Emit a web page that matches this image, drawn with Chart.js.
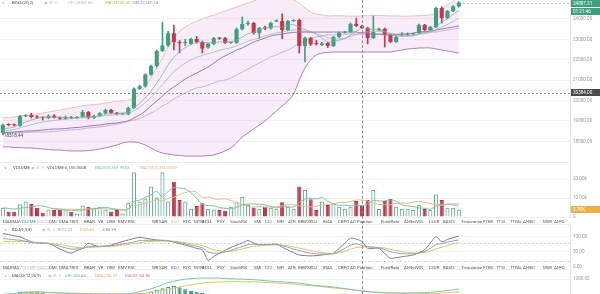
<!DOCTYPE html>
<html>
<head>
<meta charset="utf-8">
<script src="https://cdn.jsdelivr.net/npm/chart.js@4.4.1/dist/chart.umd.min.js"></script>
<style>
html,body{margin:0;padding:0;background:#fff;}
body{width:600px;height:294px;overflow:hidden;position:relative;font-family:Roboto,"Noto Sans",sans-serif;}
canvas{position:absolute;left:0;}
.t{position:absolute;white-space:nowrap;font-size:8.6px;line-height:12px;height:12px;color:#555;transform:scale(0.5);transform-origin:0 50%;}
.sep{position:absolute;left:0;width:570px;height:1px;background:#ececec;}
</style>
</head>
<body>
<canvas id="cMain" width="600" height="162" style="top:0"></canvas>
<canvas id="cVol" width="600" height="55" style="top:163px"></canvas>
<canvas id="cKdj" width="600" height="44" style="top:225px"></canvas>
<canvas id="cMacd" width="600" height="24" style="top:270px"></canvas>
<div id="overlay"></div>
<script>
// ---------------- data ----------------
const SLOTS = 100;               // time slots on the x axis (last ones empty)
const opens = [18420,18820,18820,18770,19230,19300,19200,19170,19150,19260,
 19170,19110,19190,19150,19200,19440,19150,19250,19380,19540,
 19400,19330,19330,19640,20580,20700,21280,21700,22430,22700,
 23300,22870,22820,22780,23020,22870,22600,22780,23060,23060,
 22830,22830,23500,23760,23800,23320,23560,23540,23880,23900,
 23460,23900,23950,22680,23070,22800,22730,22820,22680,23120,
 23330,23360,23760,23660,23560,23070,23460,23520,23220,22880,
 23200,23200,23250,23310,23710,23460,23600,24540,24050,24390,
 24620];
const highs = [18850,18870,18850,19280,19330,19380,19260,19210,19300,19310,
 19200,19250,19220,19230,19520,19470,19290,19420,19580,19570,
 19420,19380,19680,20620,20760,21320,21740,22480,23850,23400,
 23700,22950,23000,23060,23150,22920,22820,23100,23090,23100,
 22880,23560,24100,23900,23840,23600,23650,23850,23960,24250,
 23940,23960,24000,23110,23100,22950,22850,22860,23150,23360,
 23400,23800,24050,23700,23600,24150,23560,23560,23250,23150,
 23330,23320,23300,23750,23740,23640,24580,24600,24420,24660,
 24850];
const lows = [18318.44,18760,18750,18740,19200,19150,19120,19050,19110,19140,
 19080,19080,19120,19120,19170,19100,19120,19230,19350,19370,
 19300,19300,19300,19600,20540,20660,21230,21650,22400,22650,
 22480,22340,22700,22740,22820,22330,22560,22740,23000,22800,
 22800,22800,23460,23680,23260,23050,23480,23500,23860,23030,
 23430,23880,22330,21890,22700,22720,22700,22600,22640,23100,
 23300,23330,23620,23520,22780,23040,23430,22630,22840,22850,
 23170,23170,23220,23280,23430,23430,23570,23800,24000,24360,
 24580];
const closes = [18800,18800,18790,19230,19280,19200,19170,19150,19250,19170,
 19110,19200,19150,19200,19440,19150,19250,19380,19540,19400,
 19340,19340,19640,20580,20700,21280,21700,22430,22700,23300,
 22870,22820,22840,23020,22870,22550,22780,23060,23040,22830,
 22840,23500,23750,23800,23310,23560,23540,23800,23900,23460,
 23900,23920,22680,23070,22760,22770,22800,22680,23120,23320,
 23360,23760,23660,23560,23070,23360,23520,23220,22880,23120,
 23220,23220,23270,23710,23460,23600,24540,24050,24390,24620,
 24807.21];
const bollUp = [19150,19170,19200,19250,19270,19290,19340,19390,19440,19490,
 19540,19590,19640,19690,19740,19780,19810,19830,19880,19930,
 19960,19980,20030,20130,20320,20720,21110,21600,22090,22630,
 23070,23410,23610,23760,23900,24000,24100,24200,24290,24390,
 24490,24590,24690,24780,24880,24980,25030,25080,25080,25080,
 25030,24930,24780,24540,24340,24250,24200,24150,24160,24160,
 24150,24140,24140,24150,24160,24170,24170,24160,24150,24150,
 24140,24140,24150,24160,24180,24200,24250,24490,24690,24880,
 25130];
const bollMid = [18440,18440,18440,18440,18440,18460,18460,18460,18460,18485,
 18510,18530,18560,18580,18610,18660,18680,18710,18750,18800,
 18850,18900,19000,19050,19120,19250,19390,19540,19740,19880,
 20080,20230,20370,20520,20620,20670,20760,20860,20960,21010,
 21110,21250,21400,21550,21700,21840,21990,22140,22240,22380,
 22480,22630,22820,22920,23020,23120,23170,23220,23220,23240,
 23260,23260,23260,23260,23260,23260,23260,23260,23260,23260,
 23260,23290,23310,23340,23360,23360,23360,23410,23460,23510,
 23560];
const bollDn = [17730,17730,17700,17700,17680,17680,17650,17630,17600,17580,
 17580,17550,17530,17530,17530,17550,17580,17630,17680,17750,
 17820,17920,17970,17970,17920,17820,17680,17530,17430,17380,
 17330,17310,17280,17280,17280,17280,17310,17330,17430,17530,
 17680,17920,18220,18410,18610,18800,19000,19250,19490,19740,
 19980,20320,21010,21600,21990,22240,22330,22360,22380,22380,
 22380,22380,22380,22380,22380,22380,22380,22380,22380,22430,
 22480,22530,22550,22580,22580,22580,22530,22480,22430,22380,
 22330];
const maSlow = [18410,18440,18460,18480,18510,18510,18530,18560,18580,18610,
 18610,18630,18660,18680,18710,18750,18780,18800,18850,18880,
 18900,18950,19000,19150,19290,19490,19740,19980,20230,20470,
 20670,20860,21060,21210,21350,21500,21650,21840,22040,22190,
 22330,22480,22580,22730,22870,22970,23070,23170,23220,23260,
 23310,23340,23360,23360,23360,23360,23360,23360,23360,23360,
 23360,23360,23360,23310,23310,23260,23260,23220,23220,23220,
 23260,23260,23310,23360,23390,23410,23460,23510,23560,23610,
 23660];
const maFast = [18600,18650,18700,18850,18950,19050,19130,19180,19200,19200,
 19180,19170,19160,19160,19210,19200,19220,19260,19330,19360,
 19380,19390,19440,19650,19870,20140,20460,20860,21290,21750,
 22120,22390,22600,22750,22840,22860,22830,22840,22880,22890,
 22880,22980,23110,23270,23350,23460,23570,23590,23620,23600,
 23680,23720,23600,23480,23380,23250,23060,22870,22900,22960,
 23040,23220,23400,23550,23530,23480,23460,23380,23260,23180,
 23150,23160,23170,23270,23330,23420,23650,23830,24020,24230,
 24430];
const maMid = [18500,18540,18580,18660,18740,18820,18890,18950,19000,19030,
 19060,19090,19110,19130,19160,19170,19190,19220,19260,19290,
 19310,19330,19370,19500,19680,19900,20160,20470,20790,21110,
 21400,21640,21840,22000,22120,22220,22300,22380,22460,22530,
 22590,22680,22790,22910,22990,23080,23170,23250,23320,23360,
 23420,23470,23450,23400,23350,23280,23190,23080,23040,23030,
 23060,23140,23240,23340,23370,23390,23400,23370,23300,23240,
 23210,23200,23200,23250,23290,23340,23480,23600,23730,23880,
 24030];
const volumes = [4900,2800,2800,6700,8100,6800,4900,2300,4000,3700,
 3700,4000,2800,1900,6000,5400,4900,5400,4000,2800,
 3700,1900,7500,23500,8100,9800,16000,10200,23500,8100,
 18600,8900,8100,4400,5800,7200,4400,4000,3700,3300,
 5400,7800,10700,6300,4900,4400,5400,4900,4400,7700,
 5400,4400,16000,14200,9300,3700,8100,6300,7200,5400,
 4400,5400,8400,6500,8900,14200,4200,8400,9500,5400,
 4400,4400,3700,6300,4200,3700,11900,8900,4900,4900,
 3780];
const volMa5 = [4900,4500,4200,4600,5000,5400,5800,5800,5000,4300,
 3800,3600,3600,3200,3600,4000,4300,4800,5100,4500,
 4100,3600,4100,8000,8900,10400,11700,13500,10500,13500,
 15400,15200,14800,12700,9800,6800,6000,5900,5000,4600,
 4300,5100,6400,6800,6900,6700,6400,5400,4800,5300,
 5400,5300,7600,9500,9900,9500,10200,8300,6900,6100,
 6300,5900,6100,6000,6700,8700,8400,8500,9000,8300,
 6400,5800,5500,4800,4600,4100,5800,6000,6800,6800,
 6900];
const volMa10 = [null,null,null,null,null,null,null,null,null,4600,
 4300,4100,4100,3900,4000,4200,4300,4400,4300,3900,
 4000,3800,4300,6000,6400,7400,8000,9300,8500,9900,
 10400,11800,12800,13600,13000,10200,10500,9600,9300,9600,
 8600,7700,6500,5600,5100,5500,5200,5400,5400,6000,
 6400,6500,5900,5700,5400,5700,6400,6700,6800,7700,
 7500,8200,8900,8900,8400,7200,6600,6600,6500,7200,
 7300,7200,7800,8200,7700,7000,6700,6700,6600,6300,
 5700];
const kdjK = [95,93,91,89,86,82,80,79,78,74,69,64,60,60,62,68,69,69,70,71,
 74,77,80,84,88,89,89,89,88,87,84,81,77,73,69,64,50,46,46,50,
 55,62,68,75,76,75,75,75,75,71,66,60,55,50,46,44,43,43,44,52,
 62,73,77,72,68,66,64,58,51,47,45,44,44,47,52,62,75,78,83,87,90];
const kdjD = [85,85,85,85,84,82,81,80,79,77,75,71,68,65,64,65,66,67,68,69,
 70,73,75,78,81,84,85,86,87,87,86,84,81,78,75,71,64,58,54,52,
 53,56,60,65,69,71,72,73,74,73,71,67,63,59,55,51,48,46,45,47,
 52,59,65,66,67,66,65,63,59,55,52,49,47,47,49,53,60,66,72,77,81];
const kdjJ = [112,108,104,101,92,84,81,80,79,70,60,52,46,55,62,79,72,68,70,73,
 79,85,90,95,99,96,93,90,89,88,83,78,73,68,62,57,23,35,46,56,
 65,73,80,88,80,73,74,75,76,66,57,48,40,38,37,38,40,43,46,62,
 80,96,93,85,62,62,62,45,29,31,34,37,40,48,57,80,101,84,92,98,103];
const macdDif = [150,170,190,230,260,280,290,280,260,240,220,200,180,170,160,160,150,150,150,150,150,155,170,
 220,300,380,460,560,680,800,880,940,990,1020,1040,1050,1055,1055,1050,1030,1010,1000,990,980,960,940,910,880,860,840,
 820,800,770,720,680,640,610,580,550,510,470,420,370,330,290,260,240,230,225,222,222,225,230,240,250,265,290,320,360,400,440];
const macdDea = [120,130,140,160,180,200,215,225,230,230,228,222,215,207,200,193,186,180,175,170,166,163,163,
 170,190,220,260,310,370,440,500,560,620,680,730,770,800,820,835,845,850,850,848,845,840,830,815,800,780,760,
 740,720,690,660,630,600,570,540,505,470,440,410,380,350,320,290,265,245,225,210,195,185,180,180,185,190,200,215,235,260,290];
const macdHist = [60,80,100,280,300,290,260,220,120,40,-20,-50,-70,-80,-80,-70,-70,-60,-50,-40,-30,-20,20,
 100,150,200,300,400,480,560,611,540,430,350,295,222,180,150,120,90,60,40,30,20,10,0,-20,-40,-60,-80,
 -100,-120,-140,-160,-180,-190,-200,-200,-190,-180,-170,-160,-150,-140,-130,-120,-110,-100,-90,-80,-70,-60,-50,-40,-30,-20,-10,10,40,80,120];
const priceTicks = [18000,19000,20000,21000,22000,23000,24000];
const volTicks = [0,10000,20000];
const kdjTicks = [0,50,100];
const kdjRefLevels = [20,80];
const macdTicks = [1000];
const crosshairIndex = 63;
const crosshairPrice = 20384;
const countdownText = '01:21:46';

// ---------------- style ----------------
const GREEN = '#3f9f7c', RED = '#c8354b';
const slotLabels = Array.from({length: SLOTS}, (_, i) => String(i));
const AXIS_FONT = {size: 4.6, family: 'Roboto'};
const last = closes.length - 1;

function xOpts(){ return {type:'category', display:false, offset:true, grid:{display:false}}; }
function yOpts(min, max, ticks, fmt){
  return {
    position:'right', min, max,
    afterBuildTicks: s => { s.ticks = ticks.map(v => ({value: v})); },
    afterFit: s => { s.width = 30; s.paddingTop = 0; s.paddingBottom = 0; },
    ticks:{font:AXIS_FONT, color:'#9a9a9a', padding:3, autoSkip:false, maxRotation:0, callback: fmt},
    grid:{color:'#f2f2f2', drawTicks:false},
    border:{color:'#e3e3e3'}
  };
}
function baseOpts(scales, plugins){
  return {
    responsive:false, devicePixelRatio:1, animation:false, events:[],
    layout:{padding:0},
    plugins:Object.assign({legend:{display:false}, tooltip:{enabled:false}}, plugins||{}),
    scales
  };
}
function lineDs(data, color, extra){
  return Object.assign({type:'line', data, borderColor:color, borderWidth:1, pointRadius:0,
    tension:0.35, fill:false, clip:0, order:-1}, extra||{});
}
function boxLabel(ctx, y, text, bg, fg, top){
  ctx.save();
  ctx.font = '4.6px Roboto';
  const h = 7;
  let yy = Math.round(y - h/2);
  if (top !== undefined) yy = Math.max(top, yy);
  ctx.fillStyle = bg; ctx.fillRect(571, yy, 29, h);
  ctx.fillStyle = fg; ctx.textBaseline = 'middle'; ctx.textAlign = 'left';
  ctx.fillText(text, 573, yy + h/2 + 0.3);
  ctx.restore();
  return yy + h;
}

// ---------------- main chart ----------------
const dnIdx = 3;
const bodyColors = closes.map((c, i) => c >= opens[i] ? GREEN : RED);
const mainPlugin = {
  id:'mainDeco',
  afterDraw(chart){
    const {ctx, chartArea:a, scales:{x, y}} = chart;
    ctx.save();
    const py = Math.round(y.getPixelForValue(crosshairPrice)) + 0.5;
    ctx.setLineDash([2,2]); ctx.strokeStyle = '#8c8c8c'; ctx.lineWidth = 1;
    ctx.beginPath(); ctx.moveTo(a.left, py); ctx.lineTo(a.right, py); ctx.stroke();
    const ly = Math.round(y.getPixelForValue(closes[last])) + 0.5;
    ctx.strokeStyle = 'rgba(63,159,124,0.5)';
    ctx.beginPath(); ctx.moveTo(x.getPixelForValue(last), ly); ctx.lineTo(a.right, ly); ctx.stroke();
    ctx.setLineDash([]);
    let mi = 0; lows.forEach((v, i) => { if (v < lows[mi]) mi = i; });
    ctx.font = '4.6px Roboto'; ctx.fillStyle = '#444'; ctx.textBaseline = 'middle';
    ctx.fillText(lows[mi].toFixed(2), x.getPixelForValue(mi) + 1, y.getPixelForValue(lows[mi]) + 1);
    ctx.restore();
    const nextTop = boxLabel(ctx, y.getPixelForValue(closes[last]), closes[last].toFixed(2), '#3f9f7c', '#fff', 0);
    boxLabel(ctx, nextTop + 1 + 3.5, countdownText, '#3f9f7c', '#fff');
    boxLabel(ctx, y.getPixelForValue(crosshairPrice), crosshairPrice.toFixed(2), '#4a4a4a', '#fff');
  }
};
const mainChart = new Chart(document.getElementById('cMain'), {
  type:'bar',
  data:{
    labels: slotLabels,
    datasets:[
      {type:'bar', data: opens.map((o, i) => [o, closes[i]]), backgroundColor: bodyColors, borderWidth:0,
        categoryPercentage:1, barPercentage:0.72, minBarLength:1, grouped:false, order:1, clip:0},
      {type:'bar', data: lows.map((l, i) => [l, highs[i]]), backgroundColor: bodyColors, borderWidth:0,
        barThickness:1, grouped:false, order:2, clip:0},
      lineDs(bollUp, '#e8c3b8', {fill:{target:dnIdx}, backgroundColor:'rgba(214,160,214,0.2)', order:5}),
      lineDs(bollDn, '#a682bf', {order:4}),
      lineDs(bollMid, '#cdb0d8', {order:3}),
      lineDs(maSlow, '#9a78b2'),
      lineDs(maMid, 'rgba(150,180,172,0.7)'),
      lineDs(maFast, 'rgba(120,175,160,0.75)')
    ]
  },
  options: baseOpts({x:xOpts(), y:yOpts(16990, 24931, priceTicks, v => v.toFixed(2))}),
  plugins:[mainPlugin]
});

// ---------------- volume chart ----------------
const volPlugin = {
  id:'volDeco',
  afterDraw(chart){
    const y = chart.scales.y;
    boxLabel(chart.ctx, y.getPixelForValue(volumes[last]), (volumes[last]/1000).toFixed(2) + 'K', '#eeb046', '#fff');
  }
};
new Chart(document.getElementById('cVol'), {
  type:'bar',
  data:{
    labels: slotLabels,
    datasets:[
      {type:'bar', data: volumes, grouped:false, categoryPercentage:1, barPercentage:0.72, clip:0, order:1,
        backgroundColor: closes.map((c, i) => c >= opens[i] ? 'rgba(255,255,255,0)' : RED),
        borderColor: closes.map((c, i) => c >= opens[i] ? '#62b193' : '#b42c42'), borderWidth:1},
      lineDs(volMa5, '#7cc3a6'),
      lineDs(volMa10, '#e5b98f')
    ]
  },
  options: baseOpts({x:xOpts(), y:yOpts(-526, 28421, volTicks, v => v === 0 ? '0' : (v/1000).toFixed(2) + 'k')}),
  plugins:[volPlugin]
});

// ---------------- KDJ chart ----------------
const kdjPlugin = {
  id:'kdjDeco',
  beforeDatasetsDraw(chart){
    const {ctx, chartArea:a, scales:{y}} = chart;
    ctx.save(); ctx.setLineDash([2,2]); ctx.strokeStyle = '#d5d5d5'; ctx.lineWidth = 1;
    kdjRefLevels.forEach(v => {
      const py = Math.round(y.getPixelForValue(v)) + 0.5;
      ctx.beginPath(); ctx.moveTo(a.left, py); ctx.lineTo(a.right, py); ctx.stroke();
    });
    ctx.restore();
  }
};
new Chart(document.getElementById('cKdj'), {
  type:'line',
  data:{ labels: slotLabels, datasets:[
    lineDs(kdjK, '#8fa9a4', {tension:0.3}),
    lineDs(kdjD, '#e2bf6e', {tension:0.3}),
    lineDs(kdjJ, '#8e6db3', {tension:0.3})
  ]},
  options: baseOpts({x:Object.assign(xOpts(), {offset:true}), y:yOpts(-6.67, 140, kdjTicks, v => v.toFixed(2))}),
  plugins:[kdjPlugin]
});

// ---------------- MACD chart ----------------
new Chart(document.getElementById('cMacd'), {
  type:'bar',
  data:{ labels: slotLabels, datasets:[
    {type:'bar', data: macdHist, grouped:false, categoryPercentage:1, barPercentage:0.72, clip:0, order:1,
      backgroundColor: macdHist.map((v, i) => v >= 0 ? (i > 0 && v < macdHist[i-1] ? '#3f9f7c' : 'rgba(255,255,255,0)') : RED),
      borderColor: macdHist.map(v => v >= 0 ? '#3f9f7c' : RED), borderWidth:1},
    lineDs(macdDif, '#7cc3b5'),
    lineDs(macdDea, '#e2bf6e')
  ]},
  options: baseOpts({x:xOpts(), y:yOpts(167, 1500, macdTicks, v => v.toFixed(2))})
});

// ---------------- overlay text ----------------
const ov = document.getElementById('overlay');
function txt(x, y, s, color){
  const d = document.createElement('div');
  d.className = 't'; d.textContent = s;
  d.style.left = x + 'px'; d.style.top = (y - 6) + 'px';
  if (color) d.style.color = color;
  ov.appendChild(d); return d;
}
[162, 224, 269].forEach(y => { const s = document.createElement('div'); s.className='sep'; s.style.top = y + 'px'; ov.appendChild(s); });
(function(){
  const px = Math.round(mainChart.scales.x.getPixelForValue(crosshairIndex));
  const d = document.createElement('div');
  Object.assign(d.style, {position:'absolute', left:px + 'px', top:'0', height:'294px', width:'0', borderLeft:'1px dashed #8c8c8c'});
  ov.appendChild(d);
})();
const ICONS = '◉ ⚙ ✕';
txt(2, 2, '∨', '#999'); txt(12, 2, 'BOLL(20,2)', '#444'); txt(44, 2, ICONS, '#bbb');
txt(68, 2, 'UP:24063.86', '#d7b4ab'); txt(105, 2, 'MB:23155.50', '#c5ad4c'); txt(133, 2, 'DN:22247.14', '#9d7fb3');
txt(4, 167, '∨', '#999'); txt(13, 167, 'VOLUME', '#444'); txt(31, 167, ICONS, '#bbb');
txt(47, 167, 'VOLUME:6,135.0608', '#555'); txt(95, 167, 'MA(5):5,369.9953', '#6bbda3'); txt(140, 167, 'MA(10):6,335.5069', '#e1ae78');
txt(4, 229, '∨', '#999'); txt(12, 229, 'KDJ(9,3,3)', '#444'); txt(42, 229, ICONS, '#bbb');
txt(58, 229, 'K:72.21', '#7fa39c'); txt(80, 229, 'D:65.62', '#dcae4f'); txt(102, 229, 'J:85.39', '#8e6db3');
txt(4, 275, '∨', '#999'); txt(12, 275, 'MACD(12,26,9)', '#444'); txt(48, 275, ICONS, '#bbb');
txt(65, 275, 'DIF:268.84', '#6fbcae'); txt(95, 275, 'DEA:296.37', '#dcae4f'); txt(125, 275, 'MACD:-54.86', '#c07aa0');
const tabNames = ['MA','EMA','VOLUME','MACD','DMI','DMA','TRIX','BRAR','VR','OBV','EMV','RSI','WR','SAR','KDJ','ROC','MTM','BOLL','PSY','StochRSI','SMI','CCI','MFI','ATR','EBW','SKDJ','BIAS','CRPO','AO','Position','FundRate','AI-NetVOL','LSUR','BASIS','Tinsurance','FTBS','TTSI','TTMu','AI-BSI','MSR','AI-PD'];
const tabLeft = [3,10,19,37,49,59,69,84,98,107,118,128,152,159,171,183,194,202,217,230,254,265,277,288,298,307,323,338,350,357,381,404,429,443,461,483,496,510,523,543,554];
function tabRow(y, active, used){
  tabNames.forEach((n, i) => {
    let c = '#555';
    if (n === active) c = '#3f7fd6'; else if (used.includes(n)) c = '#c9c3d8';
    txt(tabLeft[i], y, n, c);
  });
}
tabRow(221, 'VOLUME', ['MACD','KDJ']);
tabRow(267, 'KDJ', ['VOLUME','MACD']);
</script>
</body>
</html>
